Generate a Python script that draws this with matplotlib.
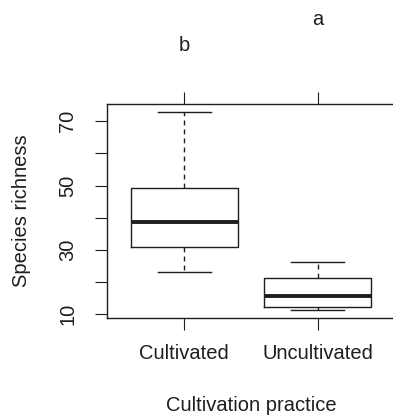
import matplotlib
matplotlib.use("Agg")
import matplotlib.pyplot as plt
import matplotlib.transforms as mtransforms

# values
groups = ["Cultivated", "Uncultivated"]
whisker_low = [23.2, 11.3]
q1 = [31.0, 12.2]
medians = [38.6, 15.7]
q3 = [49.2, 21.2]
whisker_high = [72.9, 26.2]
letters = ["b", "a"]
letter_heights = [1.249, 1.369]  # baseline, in axes fraction

y_ticks = [10, 20, 30, 40, 50, 60, 70]
y_ticklabels = ["10", "", "30", "", "50", "", "70"]

ink = "#1e1e1e"
plt.rcParams["font.family"] = ["Liberation Sans", "DejaVu Sans"]
plt.rcParams["font.size"] = 14.5

fig = plt.figure(figsize=(3.93, 4.15), dpi=100)
ax = fig.add_axes([0.2723, 0.2337, 1.0051 - 0.2723, 0.7494 - 0.2337])

stats = []
for i, name in enumerate(groups):
    stats.append(dict(label=name, whislo=whisker_low[i], q1=q1[i], med=medians[i],
                      q3=q3[i], whishi=whisker_high[i], fliers=[]))

positions = list(range(1, len(groups) + 1))
ax.bxp(stats, positions=positions, widths=0.8, showfliers=False,
       boxprops=dict(color=ink, linewidth=1.0),
       medianprops=dict(color=ink, linewidth=2.8, solid_capstyle="butt"),
       whiskerprops=dict(color=ink, linewidth=1.0, linestyle=(0, (3.5, 3))),
       capprops=dict(color=ink, linewidth=1.0),
       capwidths=0.4)

# R-style 4% padding around the data / box positions
lo, hi = min(whisker_low), max(whisker_high)
pad = 0.04 * (hi - lo)
ax.set_ylim(lo - pad, hi + pad)
ax.set_xlim(0.5 - 0.04 * len(groups), len(groups) + 0.5 + 0.04 * len(groups))

ax.set_yticks(y_ticks)
ax.set_yticklabels(y_ticklabels, rotation=90, va="center")
ax.set_xticks(positions)
ax.set_xticklabels(groups)
ax.tick_params(axis="both", direction="out", length=8.6, width=0.8, color=ink,
               labelcolor=ink)
ax.tick_params(axis="x", top=True, labeltop=False, pad=10)
ax.tick_params(axis="y", pad=13)

for sp in ax.spines.values():
    sp.set_color(ink)
    sp.set_linewidth(1.0)

ax.set_xlabel("Cultivation practice", color=ink, va="center")
ax.xaxis.set_label_coords(0.5, -0.4065)
ax.set_ylabel("Species richness", color=ink, va="center")
ax.yaxis.set_label_coords(-0.296, 0.5)

trans = mtransforms.blended_transform_factory(ax.transData, ax.transAxes)
for x, lab, h in zip(positions, letters, letter_heights):
    ax.text(x, h, lab, transform=trans, ha="center", va="baseline",
            color=ink, clip_on=False)

fig.savefig("out.png", dpi=100)
